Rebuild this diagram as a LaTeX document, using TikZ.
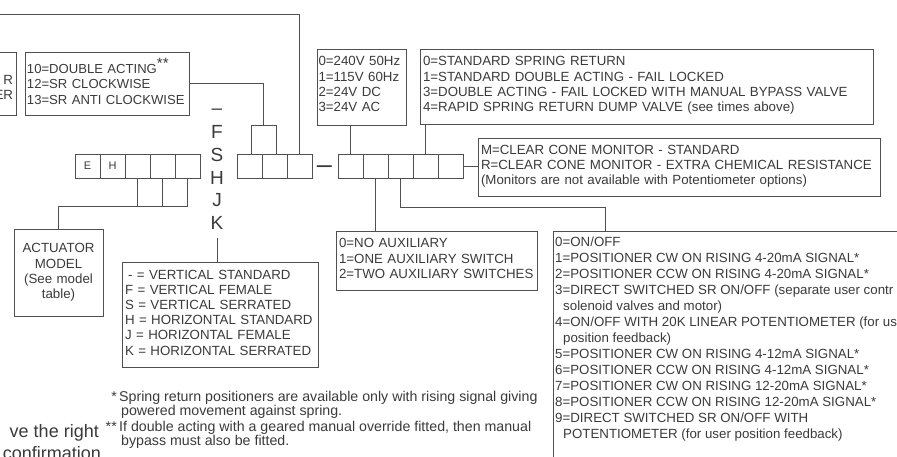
\documentclass[tikz,border=0pt]{standalone}
\usepackage{fontspec}
\setmainfont{Liberation Sans}
\definecolor{ink}{HTML}{3A3A3A}
\definecolor{wirec}{HTML}{505050}
\newcommand\dropby[1]{\rule[-#1]{0pt}{#1}}
\begin{document}
\begin{tikzpicture}[x=1pt,y=-1pt,
  wire/.style={draw=wirec, line width=0.8pt},
  cell/.style={wire, minimum width=25pt, minimum height=24pt, inner sep=0pt, text=ink, font=\fontsize{11}{13}\selectfont},
  info/.style={wire, inner xsep=3pt, inner ysep=0pt, align=left, text=ink, font=\fontsize{13.3}{15.2}\selectfont},
  plain/.style={inner sep=0pt, text=ink, font=\fontsize{13.3}{16}\selectfont},
  letter/.style={inner sep=0pt, text=ink, font=\fontsize{19}{22.7}\selectfont},
  fn/.style={inner sep=0pt, text=ink, font=\fontsize{14.2}{13.5}\selectfont},
  big/.style={inner sep=0pt, text=ink, font=\fontsize{18}{20}\selectfont}
]
\useasboundingbox (0,0) rectangle (897,457);
\clip (0,0) rectangle (897,457);

% ---------- code cells ----------
\node[cell] (g1a) at (87.5,166) {E};
\node[cell] (g1b) at (112.5,166) {H};
\node[cell] (g1c) at (137.5,166) {};
\node[cell] (g1d) at (162.5,166) {};
\node[cell] (g1e) at (187.5,166) {};
\node[cell, minimum height=28pt] (la) at (149.5,192) {};
\node[cell, minimum height=28pt] (lb) at (174.5,192) {};

\node[cell] (g2a) at (249.5,166) {};
\node[cell] (g2b) at (274.5,166) {};
\node[cell] (g2c) at (299.5,166) {};
\node[cell, minimum height=29pt] (pair) at (263.5,139.5) {};

\node[inner sep=0pt, text=ink, font=\fontsize{27}{27}\selectfont, anchor=base] (sep) at (324.5,173.4) {–};

\node[cell] (g3a) at (350.5,166) {};
\node[cell] (g3b) at (375.5,166) {};
\node[cell] (g3c) at (400.5,166) {};
\node[cell] (g3d) at (425.5,166) {};
\node[cell] (g3e) at (450.5,166) {};

% ---------- letters column ----------
\node[letter, anchor=base] (L0) at (217,114.5) {–};
\node[letter, anchor=base] (LF) at (217,138.8) {F};
\node[letter, anchor=base] (LS) at (217,161.5) {S};
\node[letter, anchor=base] (LH) at (217,184.2) {H};
\node[letter, anchor=base] (LJ) at (217,206.9) {J};
\node[letter, anchor=base] (LK) at (217,229.6) {K};

% ---------- option boxes ----------
\node[info, align=right, minimum width=76pt, minimum height=63pt, text width=70pt] (leftbox) at (-22,83.5)
  {\phantom{R}\\R\\ER\dropby{8pt}};
\node[info, inner xsep=2pt, minimum width=164pt, minimum height=63pt, text width=160pt, font=\fontsize{13.1}{15.5}\selectfont] (da) at (107,83.5)
  {\mbox{10=DOUBLE ACTING\raisebox{4.5pt}{\fontsize{15}{15}\selectfont **}}\\\mbox{12=SR CLOCKWISE}\\\mbox{13=SR ANTI CLOCKWISE}\dropby{4pt}};
\node[info, inner xsep=1.5pt, minimum width=89pt, minimum height=76pt, text width=86pt] (volt) at (361.5,87)
  {0=240V 50Hz\\1=115V 60Hz\\2=24V DC\\3=24V AC\dropby{6pt}};
\node[info, minimum width=453pt, minimum height=75pt, text width=447pt] (spring) at (646.5,86.5)
  {0=STANDARD SPRING RETURN\\1=STANDARD DOUBLE ACTING - FAIL LOCKED\\3=DOUBLE ACTING - FAIL LOCKED WITH MANUAL BYPASS VALVE\\4=RAPID SPRING RETURN DUMP VALVE (see times above)\dropby{5pt}};
\node[info, minimum width=402pt, minimum height=58pt, text width=396pt] (mon) at (679,167)
  {M=CLEAR CONE MONITOR - STANDARD\\R=CLEAR CONE MONITOR - EXTRA CHEMICAL RESISTANCE\\(Monitors are not available with Potentiometer options)\dropby{4pt}};
\node[info, minimum width=201pt, minimum height=59pt, text width=195pt] (aux) at (436.5,260.5)
  {0=NO AUXILIARY\\1=ONE AUXILIARY SWITCH\\2=TWO AUXILIARY SWITCHES\dropby{4pt}};
\node[info, minimum width=196pt, minimum height=105pt, text width=190pt] (mount) at (220,314.5)
  {\hspace*{3pt}- = VERTICAL STANDARD\\F = VERTICAL FEMALE\\S = VERTICAL SERRATED\\H = HORIZONTAL STANDARD\\J = HORIZONTAL FEMALE\\K = HORIZONTAL SERRATED\dropby{4pt}};
\node[info, align=center, minimum width=89pt, minimum height=87pt, text width=83pt] (act) at (58.5,272.5)
  {ACTUATOR\\MODEL\\(See model\\table)};
\node[wire, inner sep=0pt, minimum width=397pt, minimum height=289pt] (posbox) at (751.5,375.5) {};
\node[plain, align=left, anchor=north west] (postext) at (555,237)
  {0=ON/OFF\\
   1=POSITIONER CW ON RISING 4-20mA SIGNAL*\\
   2=POSITIONER CCW ON RISING 4-20mA SIGNAL*\\
   3=DIRECT SWITCHED SR ON/OFF (separate user contr\\
   \hspace*{8pt}solenoid valves and motor)\\
   4=ON/OFF WITH 20K LINEAR POTENTIOMETER (for us\\
   \hspace*{8pt}position feedback)\\
   5=POSITIONER CW ON RISING 4-12mA SIGNAL*\\
   6=POSITIONER CCW ON RISING 4-12mA SIGNAL*\\
   7=POSITIONER CW ON RISING 12-20mA SIGNAL*\\
   8=POSITIONER CCW ON RISING 12-20mA SIGNAL*\\
   9=DIRECT SWITCHED SR ON/OFF WITH\\
   \hspace*{8pt}POTENTIOMETER (for user position feedback)};

% ---------- footnotes ----------
\node[fn, anchor=base east] (fa1) at (117,401.5) {*};
\node[fn, anchor=base west] (fb1) at (119,401.5) {Spring return positioners are available only with rising signal giving};
\node[fn, anchor=base west] (fc1) at (121,415) {powered movement against spring.};
\node[fn, anchor=base east] (fa2) at (117,431.5) {**};
\node[fn, anchor=base west] (fb2) at (119,431.5) {If double acting with a geared manual override fitted, then manual};
\node[fn, anchor=base west] (fc2) at (121,445) {bypass must also be fitted.};

\node[big, anchor=base east] (cut1) at (99,437) {ve the right};
\node[big, anchor=base east] (cut2) at (101,459) {confirmation};

% ---------- connectors ----------
\coordinate (topend) at (0,14);
\draw[wire] (topend) -| (g2c.north);
\draw[wire] (da.east) -| (pair.north);
\draw[wire] (g3a.north) -- (g3a.north |- volt.south);
\draw[wire] (g3d.north) -- (g3d.north |- spring.south);
\draw[wire] (g3e.east) -- (g3e.east -| mon.west);
\draw[wire] (g3b.south) -- (g3b.south |- aux.north);
\coordinate (posin) at (605,231);
\draw[wire] (g3c.south) -- ++(0,29) -| (posin);
\draw[wire] (la.south west) -| (act.north);
\draw[wire] ([yshift=-8pt]LK.south) -- (LK.south |- mount.north);
\end{tikzpicture}
\end{document}
